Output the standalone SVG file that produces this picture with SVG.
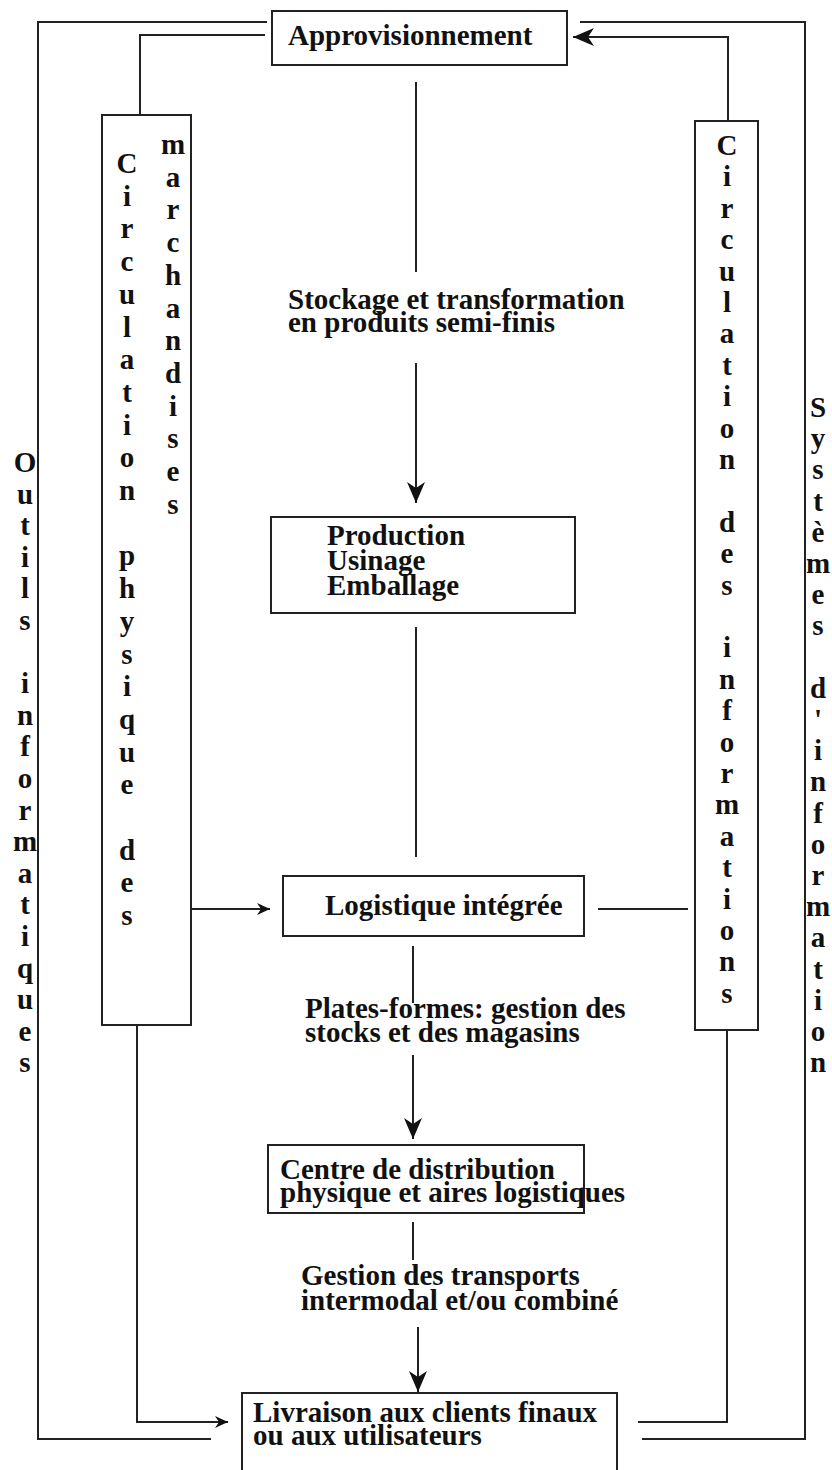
<svg xmlns="http://www.w3.org/2000/svg" width="832" height="1470" viewBox="0 0 832 1470">
  <style>
    .box { fill: #ffffff; stroke: #222222; stroke-width: 2; }
    .wire { fill: none; stroke: #222222; stroke-width: 2; }
    .lbl { font-family: "Liberation Serif", "Times New Roman", serif; font-weight: bold; font-size: 29px; fill: #111111; }
    .vert { font-family: "Liberation Serif", "Times New Roman", serif; font-weight: bold; font-size: 29px; fill: #111111; text-anchor: middle; }
  </style>
  <defs>
    <marker id="head" viewBox="-22 -11 24 22" refX="0" refY="0" markerWidth="24" markerHeight="22" markerUnits="userSpaceOnUse" orient="auto">
      <path d="M0,0 L-21,-9 L-15,0 L-21,9 Z" fill="#111111"/>
    </marker>
    <marker id="head-sm" viewBox="-14 -7 16 14" refX="0" refY="0" markerWidth="16" markerHeight="14" markerUnits="userSpaceOnUse" orient="auto">
      <path d="M0,0 L-13,-6 L-9,0 L-13,6 Z" fill="#111111"/>
    </marker>
  </defs>
  <rect width="832" height="1470" fill="#ffffff"/>

  <!-- connectors -->
  <g id="connectors">
    <polyline class="wire" points="267,22 38,22 38,1439 211,1439"/>
    <polyline class="wire" points="265,35 140,35 140,115"/>
    <polyline class="wire" points="137,1025 137,1422 228,1422" marker-end="url(#head-sm)"/>
    <line class="wire" x1="191" y1="909" x2="270" y2="909" marker-end="url(#head-sm)"/>
    <line class="wire" x1="416" y1="82" x2="416" y2="272"/>
    <line class="wire" x1="416" y1="363" x2="416" y2="503" marker-end="url(#head)"/>
    <line class="wire" x1="416" y1="627" x2="416" y2="857"/>
    <line class="wire" x1="413" y1="946" x2="413" y2="1003"/>
    <line class="wire" x1="413" y1="1055" x2="413" y2="1139" marker-end="url(#head)"/>
    <line class="wire" x1="413" y1="1222" x2="413" y2="1260"/>
    <line class="wire" x1="418" y1="1327" x2="418" y2="1392" marker-end="url(#head)"/>
    <polyline class="wire" points="580,22 805,22 805,1439 642,1439"/>
    <polyline class="wire" points="728,121 728,37 573,37" marker-end="url(#head)"/>
    <polyline class="wire" points="727,1030 727,1422 638,1422"/>
    <line class="wire" x1="598" y1="909" x2="688" y2="909"/>
  </g>

  <!-- supply -->
  <g id="approvisionnement">
    <rect class="box" x="272" y="11" width="295" height="54"/>
    <text class="lbl" x="288" y="45">Approvisionnement</text>
  </g>

  <!-- storage label -->
  <g id="stockage">
    <text class="lbl" x="288" y="309">Stockage et transformation</text>
    <text class="lbl" x="288" y="332">en produits semi-finis</text>
  </g>

  <!-- production -->
  <g id="production">
    <rect class="box" x="271" y="517" width="304" height="96"/>
    <text class="lbl" x="327" y="545">Production</text>
    <text class="lbl" x="327" y="570">Usinage</text>
    <text class="lbl" x="327" y="595">Emballage</text>
  </g>

  <!-- integrated logistics -->
  <g id="logistique">
    <rect class="box" x="283" y="876" width="301" height="60"/>
    <text class="lbl" x="325" y="915">Logistique intégrée</text>
  </g>

  <!-- platforms label -->
  <g id="plates-formes">
    <text class="lbl" x="305" y="1018">Plates-formes: gestion des</text>
    <text class="lbl" x="305" y="1042">stocks et des magasins</text>
  </g>

  <!-- distribution centre -->
  <g id="centre">
    <rect class="box" x="268" y="1145" width="316" height="68"/>
    <text class="lbl" x="280" y="1179">Centre de distribution</text>
    <text class="lbl" x="280" y="1202">physique et aires logistiques</text>
  </g>

  <!-- transport label -->
  <g id="transports">
    <text class="lbl" x="301" y="1285">Gestion des transports</text>
    <text class="lbl" x="301" y="1310">intermodal et/ou combiné</text>
  </g>

  <!-- delivery -->
  <g id="livraison">
    <rect class="box" x="242" y="1393" width="375" height="90"/>
    <text class="lbl" x="253" y="1422">Livraison aux clients finaux</text>
    <text class="lbl" x="253" y="1445">ou aux utilisateurs</text>
  </g>

  <!-- physical flow column -->
  <g id="circulation-physique">
    <rect class="box" x="102" y="115" width="89" height="910"/>
    <text class="vert"
      x="127 127 127 127 127 127 127 127 127 127 127 127 127 127 127 127 127 127 127 127 127 127 127 127"
      y="173 205.7 238.4 271.1 303.8 336.5 369.2 401.9 434.6 467.3 500 532.7 565.4 598.1 630.8 663.5 696.2 728.9 761.6 794.3 827 859.7 892.4 925.1">Circulation physique des</text>
    <text class="vert"
      x="173 173 173 173 173 173 173 173 173 173 173 173"
      y="154 186.7 219.4 252.1 284.8 317.5 350.2 382.9 415.6 448.3 481 513.7">marchandises</text>
  </g>

  <!-- information flow column -->
  <g id="circulation-informations">
    <rect class="box" x="695" y="121" width="63" height="909"/>
    <text class="vert"
      x="727 727 727 727 727 727 727 727 727 727 727 727 727 727 727 727 727 727 727 727 727 727 727 727 727 727 727 727"
      y="155 186.4 217.8 249.2 280.6 312 343.4 374.8 406.2 437.6 469 500.4 531.8 563.2 594.6 626 657.4 688.8 720.2 751.6 783 814.4 845.8 877.2 908.6 940 971.4 1002.8">Circulation des informations</text>
  </g>

  <!-- side labels -->
  <g id="outils-informatiques">
    <text class="vert"
      x="25 25 25 25 25 25 25 25 25 25 25 25 25 25 25 25 25 25 25 25"
      y="472 503.6 535.2 566.8 598.4 630 661.6 693.2 724.8 756.4 788 819.6 851.2 882.8 914.4 946 977.6 1009.2 1040.8 1072.4">Outils informatiques</text>
  </g>
  <g id="systemes-information">
    <text class="vert"
      x="818 818 818 818 818 818 818 818 818 818 818 818 818 818 818 818 818 818 818 818 818 818"
      y="417 448.2 479.4 510.6 541.8 573 604.2 635.4 666.6 697.8 729 760.2 791.4 822.6 853.8 885 916.2 947.4 978.6 1009.8 1041 1072.2">Systèmes d'information</text>
  </g>
</svg>
